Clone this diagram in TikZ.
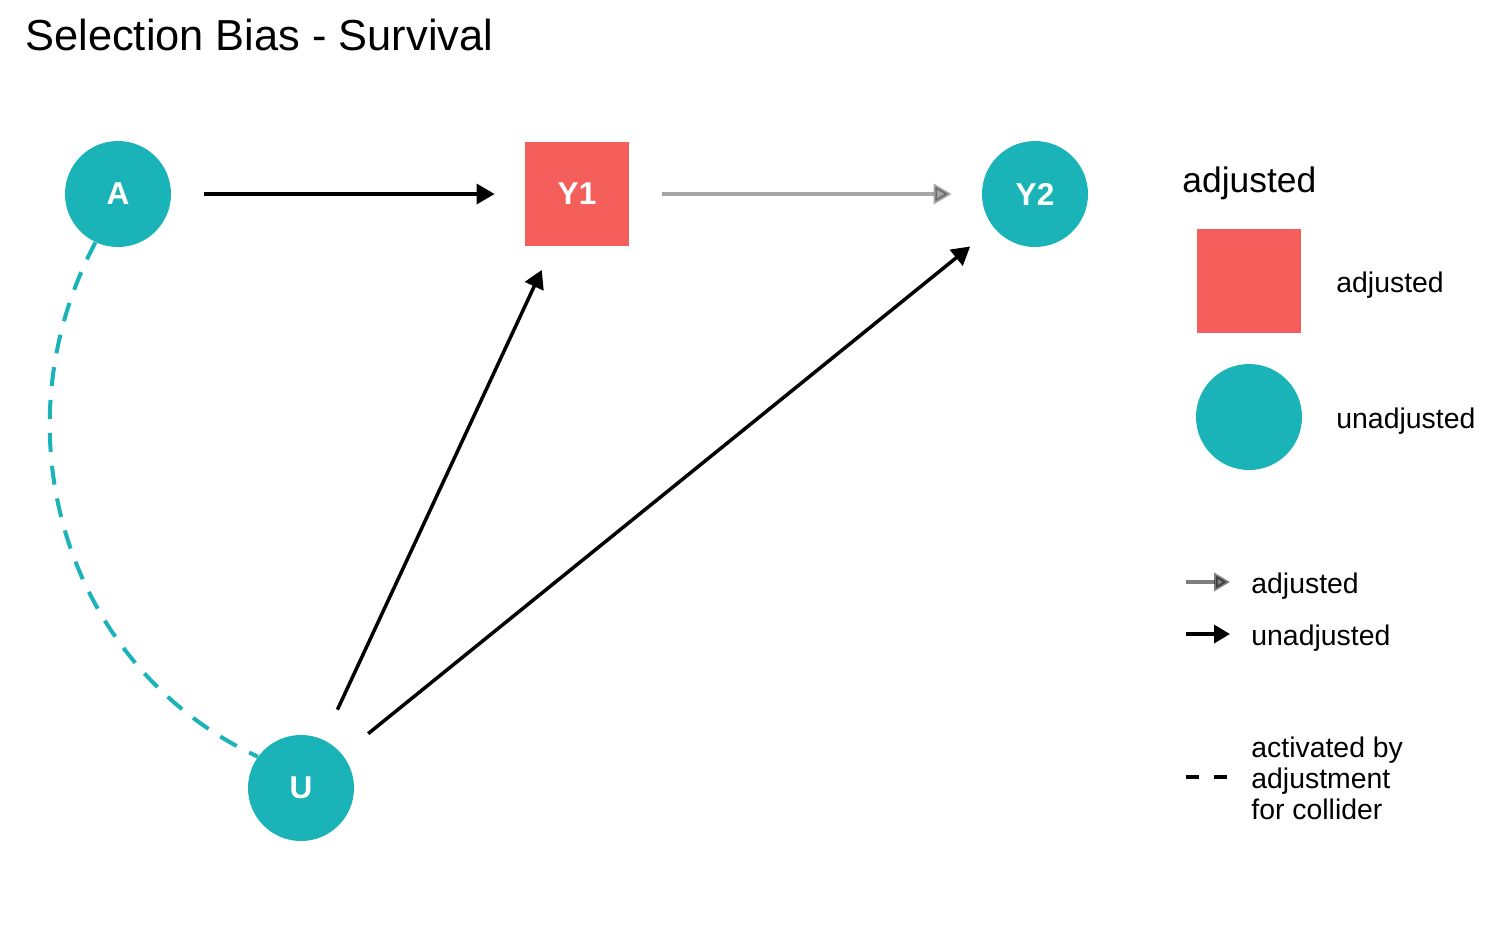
\documentclass[tikz,border=0pt]{standalone}
\usepackage{fontspec}
\setmainfont{Liberation Sans}
\usetikzlibrary{arrows.meta}
\definecolor{tealc}{HTML}{1AB4B8}
\definecolor{redc}{HTML}{F45F5C}
\pgfdeclarelayer{bg}
\pgfsetlayers{bg,main}
\begin{document}
\begin{tikzpicture}[x=0.5pt,y=-0.5pt,
  cnode/.style={circle,fill=tealc,minimum size=53pt,inner sep=0pt,text=white,font=\fontsize{15.8}{18}\selectfont\bfseries},
  snode/.style={rectangle,fill=redc,minimum size=52pt,inner sep=0pt,text=white,font=\fontsize{15.8}{18}\selectfont\bfseries},
  edgearrow/.style={line width=1.75pt,-{Triangle[length=9pt,width=10pt]},shorten <=16.5pt,shorten >=15pt},
  legarrow/.style={line width=1.75pt,-{Triangle[length=8pt,width=9pt]}},
  dashedge/.style={draw=tealc,line width=2pt,dash pattern=on 9.5pt off 7pt},
  legdash/.style={draw=black,line width=1.75pt,dash pattern=on 6.5pt off 7.5pt},
  leglabel/.style={anchor=west,inner sep=0pt,font=\fontsize{14.2}{15.5}\selectfont},
]
\useasboundingbox (0,0) rectangle (1512,934);

\node[anchor=base west,inner sep=0pt,font=\fontsize{21.7}{26}\selectfont] (title) at (25,50) {Selection Bias - Survival};

\node[cnode] (A) at (118,194) {A};
\node[snode] (Y1) at (577,194) {Y1};
\node[cnode] (Y2) at (1035,194) {Y2};
\node[cnode] (U) at (301,788) {U};

\begin{pgfonlayer}{bg}
\fill[white] (0,0) rectangle (1512,934);
\draw[dashedge] (A.245) .. controls (-7,436) and (69.5,669.5) .. (U.144);
\end{pgfonlayer}

\draw[edgearrow] (A) -- (Y1);
\draw[edgearrow,opacity=0.35] (Y1) -- (Y2);
\draw[edgearrow,shorten >=13pt] (U) -- (Y1);
\draw[edgearrow] (U) -- (Y2);

% legend
\node[anchor=base west,inner sep=0pt,font=\fontsize{17.7}{20}\selectfont] (lt) at (1182,192) {adjusted};
\node[snode] (ls) at (1249,281) {};
\node[cnode] (lc) at (1249,417) {};
\node[leglabel] (l1) at (1336,285) {adjusted};
\node[leglabel] (l2) at (1336,421) {unadjusted};

\coordinate (a1s) at (1186,582);
\coordinate (a1e) at (1230,582);
\draw[legarrow,opacity=0.5] (a1s) -- (a1e);
\node[leglabel] (l3) at (1251,586) {adjusted};

\coordinate (a2s) at (1186,634);
\coordinate (a2e) at (1230,634);
\draw[legarrow] (a2s) -- (a2e);
\node[leglabel] (l4) at (1251,638) {unadjusted};

\coordinate (d1s) at (1186,777);
\coordinate (d1e) at (1228,777);
\draw[legdash] (d1s) -- (d1e);
\node[leglabel,align=left] (l5) at (1251,778) {activated by\\adjustment\\for collider};
\end{tikzpicture}
\end{document}
